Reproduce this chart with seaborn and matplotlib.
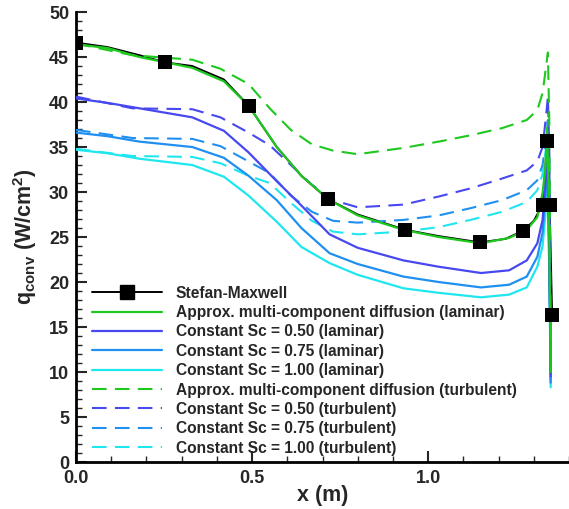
import numpy as np
import pandas as pd
import matplotlib
matplotlib.use("Agg")
import matplotlib.pyplot as plt
from matplotlib.lines import Line2D
from matplotlib.ticker import MultipleLocator, FormatStrFormatter
import seaborn as sns

# ---- surface convective heat flux along the body, x in m, q in W/cm^2 ----
x_sm = [0.0, 0.09, 0.18, 0.253, 0.33, 0.42, 0.49, 0.57, 0.64, 0.716, 0.80, 0.935,
        1.03, 1.148, 1.22, 1.27, 1.30, 1.325, 1.338, 1.345, 1.352]
q_sm = [46.6, 46.1, 45.2, 44.4, 44.0, 42.5, 39.6, 35.0, 31.8, 29.2, 27.5, 25.8,
        25.1, 24.4, 24.8, 25.7, 26.8, 28.6, 35.7, 28.6, 16.3]
sm_marker_idx = [0, 3, 6, 9, 11, 13, 15, 17, 18, 19, 20]

x_lam = [0.0, 0.09, 0.18, 0.33, 0.42, 0.49, 0.57, 0.64, 0.72, 0.80, 0.93, 1.03,
         1.15, 1.23, 1.28, 1.31, 1.325, 1.333, 1.338, 1.342, 1.346, 1.348]
q_amcd_lam = [46.4, 46.0, 45.0, 43.8, 42.3, 39.6, 35.0, 31.8, 29.1, 27.4, 25.8, 25.0,
              24.3, 24.9, 25.8, 27.2, 29.9, 32.8, 37.2, 30.0, 18.0, 10.0]
q_sc050_lam = [40.4, 39.9, 39.3, 38.3, 36.8, 34.4, 31.2, 28.5, 25.3, 23.8, 22.4, 21.7,
               21.0, 21.3, 22.4, 24.3, 26.9, 31.0, 35.0, 28.0, 17.0, 9.5]
q_sc075_lam = [36.6, 36.2, 35.6, 35.0, 33.8, 31.8, 29.1, 26.0, 23.2, 22.0, 20.6, 20.0,
               19.4, 19.7, 20.6, 22.8, 25.5, 29.5, 34.0, 27.0, 16.0, 8.8]
q_sc100_lam = [34.7, 34.3, 33.7, 33.0, 31.7, 29.6, 26.7, 23.9, 22.1, 20.8, 19.3, 18.8,
               18.3, 18.6, 19.4, 21.7, 24.0, 27.5, 33.0, 26.0, 15.0, 8.3]

x_turb = [0.0, 0.16, 0.33, 0.41, 0.49, 0.55, 0.61, 0.67, 0.73, 0.80, 0.93, 1.03,
          1.12, 1.21, 1.28, 1.31, 1.325, 1.335, 1.34, 1.344, 1.348]
q_amcd_turb = [46.5, 45.2, 44.7, 43.7, 42.0, 39.3, 36.9, 35.3, 34.6, 34.2, 34.9, 35.6,
               36.3, 37.1, 38.0, 39.1, 41.0, 44.0, 45.5, 38.0, 12.0]
q_sc050_turb = [40.6, 39.3, 39.2, 38.3, 36.6, 35.2, 33.0, 30.8, 29.1, 28.3, 28.6, 29.5,
                30.4, 31.5, 32.4, 33.4, 35.0, 38.5, 40.6, 35.0, 9.0]
q_sc075_turb = [36.9, 36.0, 35.9, 35.1, 33.4, 32.1, 29.6, 27.8, 26.8, 26.6, 26.9, 27.4,
                28.2, 29.1, 30.2, 31.3, 33.0, 36.0, 38.0, 33.0, 10.0]
q_sc100_turb = [34.8, 34.0, 33.9, 33.2, 31.8, 31.0, 28.8, 26.8, 25.6, 25.3, 25.6, 26.1,
                26.9, 27.8, 28.9, 30.2, 32.0, 35.0, 36.5, 32.0, 10.0]

labels = [
    "Stefan-Maxwell",
    "Approx. multi-component diffusion (laminar)",
    "Constant Sc = 0.50 (laminar)",
    "Constant Sc = 0.75 (laminar)",
    "Constant Sc = 1.00 (laminar)",
    "Approx. multi-component diffusion (turbulent)",
    "Constant Sc = 0.50 (turbulent)",
    "Constant Sc = 0.75 (turbulent)",
    "Constant Sc = 1.00 (turbulent)",
]

GREEN, BLUE, AZURE, CYAN = "#1ec81e", "#4848f0", "#2090f0", "#20e6f0"
DASH = (0, (7, 4))

sns.set_style("ticks")
plt.rcParams.update({
    "font.family": ["Liberation Sans", "DejaVu Sans"],
    "font.weight": "bold",
    "mathtext.fontset": "custom",
    "mathtext.rm": "Liberation Sans:bold",
    "mathtext.it": "Liberation Sans:bold",
    "mathtext.bf": "Liberation Sans:bold",
    "mathtext.default": "rm",
})

fig = plt.figure(figsize=(5.69, 5.09), dpi=100)
ax = fig.add_axes([0.1336, 0.0923, 0.8664, 0.8841])

lam_series = [(q_amcd_lam, GREEN), (q_sc050_lam, BLUE), (q_sc075_lam, AZURE), (q_sc100_lam, CYAN)]
turb_series = [(q_amcd_turb, GREEN), (q_sc050_turb, BLUE), (q_sc075_turb, AZURE), (q_sc100_turb, CYAN)]

# Stefan-Maxwell reference line (drawn underneath)
sns.lineplot(x=x_sm, y=q_sm, sort=False, estimator=None, color="black",
             linewidth=1.4, ax=ax, zorder=2)

for q, c in turb_series[::-1]:
    sns.lineplot(x=x_turb, y=q, sort=False, estimator=None, color=c,
                 linewidth=1.5, linestyle=DASH, ax=ax, zorder=3)
for q, c in lam_series[::-1]:
    sns.lineplot(x=x_lam, y=q, sort=False, estimator=None, color=c,
                 linewidth=1.6, ax=ax, zorder=4)

# Stefan-Maxwell symbols on top
sm_pts = pd.DataFrame({"x": x_sm, "q": q_sm}).iloc[sm_marker_idx]
sns.scatterplot(data=sm_pts, x="x", y="q", marker="s", s=95, color="black",
                edgecolor="black", linewidth=0, ax=ax, zorder=6)

ax.set_xlim(0, 1.4)
ax.set_ylim(0, 50)
ax.xaxis.set_major_locator(MultipleLocator(0.5))
ax.xaxis.set_minor_locator(MultipleLocator(0.1))
ax.xaxis.set_major_formatter(FormatStrFormatter("%.1f"))
ax.yaxis.set_major_locator(MultipleLocator(5))
ax.yaxis.set_minor_locator(MultipleLocator(1))
ax.tick_params(which="major", direction="in", length=8, width=1.5,
               labelsize=13, pad=5)
ax.tick_params(which="minor", direction="in", length=4, width=1.0)
ax.tick_params(axis="x", which="major", pad=6, labelsize=13)
for lab in ax.get_xticklabels() + ax.get_yticklabels():
    lab.set_fontweight("bold")

sns.despine(ax=ax)
for s in ("left", "bottom"):
    ax.spines[s].set_linewidth(2.0)
    ax.spines[s].set_color("black")

ax.set_xlabel("x (m)", fontsize=15.5, fontweight="bold")
ax.set_ylabel(r"q$_{\mathrm{conv}}$ (W/cm$^{2}$)", fontsize=15.5, fontweight="bold")
ax.xaxis.set_label_coords(0.5, -0.052)
ax.yaxis.set_label_coords(-0.075, 0.5)

handles = [Line2D([], [], color="black", linewidth=1.4, marker="s", markersize=9.5)]
handles += [Line2D([], [], color=c, linewidth=1.6) for _, c in lam_series]
handles += [Line2D([], [], color=c, linewidth=1.5, linestyle=DASH) for _, c in turb_series]
leg = ax.legend(handles, labels, loc="lower left", bbox_to_anchor=(0.01, -0.01),
                frameon=False, handlelength=4.5, handletextpad=0.9,
                labelspacing=0.28, borderaxespad=0.3,
                prop={"family": "Liberation Sans", "weight": "bold", "size": 11.2})

fig.savefig("out.png", dpi=100)
